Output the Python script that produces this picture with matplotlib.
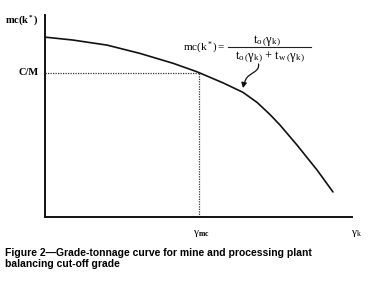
import matplotlib
matplotlib.use("Agg")
import matplotlib.pyplot as plt
from matplotlib.patches import FancyArrowPatch
from matplotlib.path import Path

plt.rcParams['mathtext.fontset'] = 'custom'
plt.rcParams['mathtext.rm'] = 'Liberation Serif'
plt.rcParams['mathtext.it'] = 'Liberation Serif:italic'
plt.rcParams['mathtext.bf'] = 'Liberation Serif:bold'

# Data (grade on x, mc(k*) on y, arbitrary 0-10 units)
grade = [0.03, 0.91, 2.02, 3.09, 4.17, 4.95, 5.80, 6.45, 6.91, 7.33, 7.65, 8.21, 8.86, 9.38]
mc = [8.90, 8.76, 8.51, 8.10, 7.61, 7.19, 6.64, 6.17, 5.67, 5.07, 4.56, 3.56, 2.33, 1.24]
cm_level = 7.14
gamma_mc = 5.03

W, H = 369, 291
fig = plt.figure(figsize=(W / 100, H / 100), dpi=100)
L, R, T, B = 45, 352, 15, 217
ax = fig.add_axes([L / W, 1 - B / H, (R - L) / W, (B - T) / H])
ax.set_xlim(0, 10)
ax.set_ylim(0, 10)
for s in ['top', 'right']:
    ax.spines[s].set_visible(False)
for s in ['left', 'bottom']:
    ax.spines[s].set_linewidth(1.4)
    ax.spines[s].set_color('#111111')
ax.set_xticks([])
ax.set_yticks([])
ax.patch.set_visible(False)

ax.plot(grade, mc, color='#111111', lw=1.2, solid_capstyle='round', solid_joinstyle='round')
ax.plot([0, gamma_mc], [cm_level, cm_level], color='#333333', lw=0.9, ls=(0, (1, 1)))
ax.plot([gamma_mc, gamma_mc], [0, cm_level], color='#333333', lw=0.9, ls=(0, (1, 1)))

ax.text(-0.2, 9.75, r'$\mathbf{mc(k^*)}$', ha='right', va='center', fontsize=7.5)
ax.text(-0.2, cm_level, 'C/M', ha='right', va='center', fontsize=7.5,
        family='Liberation Serif', weight='bold')
ax.text(5.1, -0.8, r'$\mathrm{\gamma}_{\mathbf{mc}}$', ha='center', va='center', fontsize=8)
ax.text(10.15, -0.8, r'$\mathrm{\gamma}_{\mathrm{k}}$', ha='center', va='center', fontsize=8)


def fx(x):
    return x / W


def fy(y):
    return 1 - y / H


# formula built from pieces
fig.text(fx(183), fy(47.5), r'$\mathrm{mc(k^*) =}$', ha='left', va='center', fontsize=8)
fig.text(fx(267), fy(40), r'$\mathrm{t_o\,\left(\gamma_k\right)}$', ha='center', va='center', fontsize=9)
fig.text(fx(270), fy(56), r'$\mathrm{t_o\,\left(\gamma_k\right)\, +\, t_w\,\left(\gamma_k\right)}$',
         ha='center', va='center', fontsize=9)
fig.add_artist(plt.Line2D([fx(228), fx(311)], [fy(47), fy(47)], color='#222222', lw=0.8))

# squiggly arrow (pixel coordinates)
def px(x, y):
    return (x, H - y)
verts = [px(258.5, 64), px(260, 72), px(249, 73), px(246, 79), px(244, 83), px(243, 88)]
codes = [Path.MOVETO, Path.CURVE4, Path.CURVE4, Path.CURVE4, Path.CURVE3, Path.CURVE3]
arrow = FancyArrowPatch(path=Path(verts, codes), arrowstyle='-|>,head_length=3,head_width=1.6',
                        color='#111111', lw=0.9, transform=None)
fig.patches.append(arrow)

fig.text(fx(5), fy(252.5), 'Figure 2\u2014Grade-tonnage curve for mine and processing plant',
         ha='left', va='center', fontsize=7.45, family='Liberation Sans', weight='bold')
fig.text(fx(5), fy(264), 'balancing cut-off grade',
         ha='left', va='center', fontsize=7.45, family='Liberation Sans', weight='bold')

fig.savefig('out.png', dpi=100)
